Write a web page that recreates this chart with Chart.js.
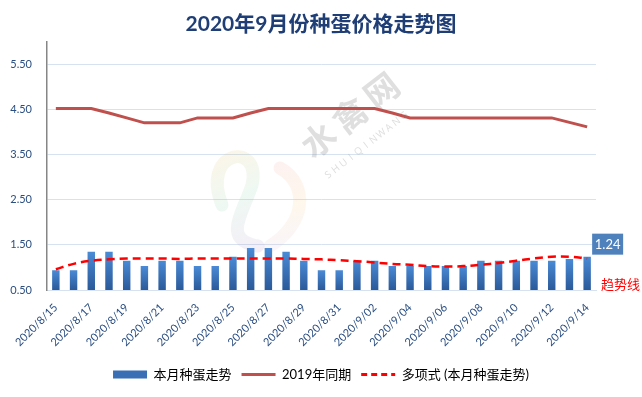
<!DOCTYPE html>
<html>
<head>
<meta charset="utf-8">
<script src="https://cdn.jsdelivr.net/npm/chart.js@4/dist/chart.umd.min.js"></script>
<style>
  body { margin: 0; background: #fff; }
</style>
</head>
<body>
<canvas id="eggPrice" width="642" height="397"></canvas>
<script>
const categories = ['2020/8/15','2020/8/16','2020/8/17','2020/8/18','2020/8/19','2020/8/20','2020/8/21','2020/8/22',
  '2020/8/23','2020/8/24','2020/8/25','2020/8/26','2020/8/27','2020/8/28','2020/8/29','2020/8/30','2020/8/31',
  '2020/9/01','2020/9/02','2020/9/03','2020/9/04','2020/9/05','2020/9/06','2020/9/07','2020/9/08','2020/9/09',
  '2020/9/10','2020/9/11','2020/9/12','2020/9/13','2020/9/14'];
const thisMonth = [0.94,0.94,1.35,1.35,1.15,1.03,1.15,1.15,1.03,1.03,1.24,1.43,1.43,1.35,1.15,0.94,
  0.94,1.15,1.15,1.03,1.03,1.03,1.03,1.03,1.15,1.15,1.15,1.15,1.15,1.19,1.24];
const lastYear = [4.53,4.53,4.53,4.43,4.32,4.21,4.21,4.21,4.32,4.32,4.32,4.43,4.53,4.53,4.53,4.53,
  4.53,4.53,4.53,4.43,4.32,4.32,4.32,4.32,4.32,4.32,4.32,4.32,4.32,4.22,4.12];
const trendLine = [0.96,1.08,1.15,1.18,1.20,1.20,1.20,1.19,1.20,1.20,1.20,1.20,1.20,1.20,1.19,1.18,
  1.16,1.14,1.11,1.08,1.06,1.03,1.02,1.03,1.06,1.10,1.15,1.20,1.24,1.24,1.20];
const yTicks = [0.5, 1.5, 2.5, 3.5, 4.5, 5.5];
const yMin = 0.5;
const yMax = 6.0;

Chart.defaults.font.family = "Lato, 'Noto Sans CJK SC', sans-serif";

// gradient per bar, light top -> dark bottom
function barFill(context) {
  const chart = context.chart;
  if (!chart.chartArea) return '#3A6FB5';
  const top = chart.scales.y.getPixelForValue(context.raw);
  const g = chart.ctx.createLinearGradient(0, top, 0, chart.chartArea.bottom);
  g.addColorStop(0, '#4A8AD6');
  g.addColorStop(1, '#2B5A99');
  return g;
}

const extras = {
  id: 'extras',
  beforeDraw(chart) {
    const c = chart.ctx;
    c.save();
    c.fillStyle = '#fff';
    c.fillRect(0, 0, chart.width, chart.height);
    c.restore();
  },
  beforeDatasetsDraw(chart) {
    const c = chart.ctx;
    c.save();
    // faint swan logo
    c.globalAlpha = 0.13;
    c.lineWidth = 13;
    c.lineCap = 'round';
    const g1 = c.createLinearGradient(210, 150, 260, 250);
    g1.addColorStop(0, '#F5B041');
    g1.addColorStop(0.5, '#7DCEA0');
    g1.addColorStop(1, '#AF7AC5');
    c.strokeStyle = g1;
    c.beginPath();
    c.moveTo(222, 205);
    c.bezierCurveTo(200, 150, 262, 140, 252, 185);
    c.bezierCurveTo(242, 215, 222, 240, 258, 246);
    c.stroke();
    const g2 = c.createLinearGradient(280, 160, 300, 250);
    g2.addColorStop(0, '#F1948A');
    g2.addColorStop(0.5, '#F8C471');
    g2.addColorStop(1, '#D2B4DE');
    c.strokeStyle = g2;
    c.beginPath();
    c.moveTo(280, 168);
    c.bezierCurveTo(310, 185, 305, 225, 270, 246);
    c.stroke();
    c.restore();

    // watermark text
    c.save();
    c.fillStyle = 'rgba(150,150,150,0.3)';
    c.translate(350, 115);
    c.rotate(-38 * Math.PI / 180);
    c.font = "bold 34px 'Noto Sans CJK SC'";
    c.textAlign = 'center';
    c.textBaseline = 'middle';
    ['水', '禽', '网'].forEach((ch, i) => c.fillText(ch, (i - 1) * 40, 0));
    c.font = "10px 'Open Sans'";
    c.fillStyle = 'rgba(150,150,150,0.32)';
    const word = 'SHUIQINWANG';
    for (let i = 0; i < word.length; i++) {
      c.fillText(word[i], -6 + (i - 5) * 9.6, 34);
    }
    c.restore();
  },
  afterDatasetsDraw(chart) {
    const c = chart.ctx;
    const bars = chart.getDatasetMeta(0).data;
    const last = bars[bars.length - 1];
    c.save();
    c.fillStyle = '#4F81BD';
    c.fillRect(last.x + 5, last.y - 23, 31, 21);
    c.fillStyle = '#fff';
    c.font = "13px Lato, 'Noto Sans CJK SC'";
    c.textAlign = 'center';
    c.textBaseline = 'middle';
    c.fillText(String(thisMonth[thisMonth.length - 1]), last.x + 20.5, last.y - 12);
    c.fillStyle = '#FF0000';
    c.font = "13px 'Noto Sans CJK SC'";
    c.textAlign = 'left';
    c.fillText('趋势线', chart.chartArea.right + 5, chart.chartArea.bottom - 6);
    c.restore();
  }
};

const ctx = document.getElementById('eggPrice');

const chart = new Chart(ctx, {
  type: 'bar',
  data: {
    labels: categories,
    datasets: [{
      label: '本月种蛋走势',
      data: thisMonth,
      backgroundColor: barFill,
      barPercentage: 0.42,
      categoryPercentage: 1,
      order: 3
    },
    {
      type: 'line',
      label: '2019年同期',
      data: lastYear,
      borderColor: '#C0504D',
      borderWidth: 3,
      pointRadius: 0,
      tension: 0,
      order: 2
    },
    {
      type: 'line',
      label: '多项式 (本月种蛋走势)',
      data: trendLine,
      borderColor: '#FF0000',
      borderWidth: 2.5,
      borderDash: [8, 5],
      pointRadius: 0,
      tension: 0.4,
      order: 1
    }]
  },
  options: {
    responsive: false,
    animation: false,
    layout: { padding: { top: 0, right: 0, bottom: 6, left: 0 } },
    plugins: {
      title: {
        display: true,
        text: '2020年9月份种蛋价格走势图',
        color: '#1F3E76',
        font: { size: 21, weight: 'bold' },
        padding: { top: 12, bottom: 5 }
      },
      legend: {
        position: 'bottom',
        labels: {
          color: '#000',
          font: { size: 13 },
          usePointStyle: true,
          pointStyleWidth: 34,
          boxHeight: 8,
          padding: 10,
          generateLabels(chart) {
            const items = Chart.defaults.plugins.legend.labels.generateLabels(chart);
            items.forEach(it => {
              if (it.datasetIndex === 0) {
                it.pointStyle = 'rect';
                it.fillStyle = '#3A6FB5';
                it.strokeStyle = '#3A6FB5';
                it.lineWidth = 0;
              } else if (it.datasetIndex === 1) {
                it.pointStyle = 'line';
                it.strokeStyle = '#C0504D';
                it.lineWidth = 3;
                it.lineDash = [];
              } else {
                it.pointStyle = 'line';
                it.strokeStyle = '#FF0000';
                it.lineWidth = 3;
                it.lineDash = [6, 4];
              }
            });
            return items.sort((a, b) => a.datasetIndex - b.datasetIndex);
          }
        }
      },
      tooltip: { enabled: false }
    },
    scales: {
      x: {
        grid: { display: false },
        border: { color: '#D6E2F0' },
        ticks: {
          color: '#2A4E82',
          font: { size: 11 },
          autoSkip: false,
          minRotation: 45,
          maxRotation: 45,
          callback: (v, i) => (i % 2 === 0 ? categories[i] : '')
        },
        afterFit(s) { s.height = 68; }
      },
      y: {
        min: yMin,
        max: yMax,
        grid: { color: '#D6E2F0', drawTicks: false },
        border: { color: '#868686', width: 1.5 },
        ticks: {
          color: '#2A4E82',
          font: { size: 11 },
          padding: 15,
          callback: v => v.toFixed(2)
        },
        afterBuildTicks(s) { s.ticks = yTicks.map(v => ({ value: v })); },
        afterFit(s) { s.width = 47; }
      },
      yRight: {
        position: 'right',
        grid: { display: false },
        border: { display: false },
        ticks: { display: false },
        afterFit(s) { s.width = 46; }
      }
    }
  },
  plugins: [extras]
});
</script>
</body>
</html>
